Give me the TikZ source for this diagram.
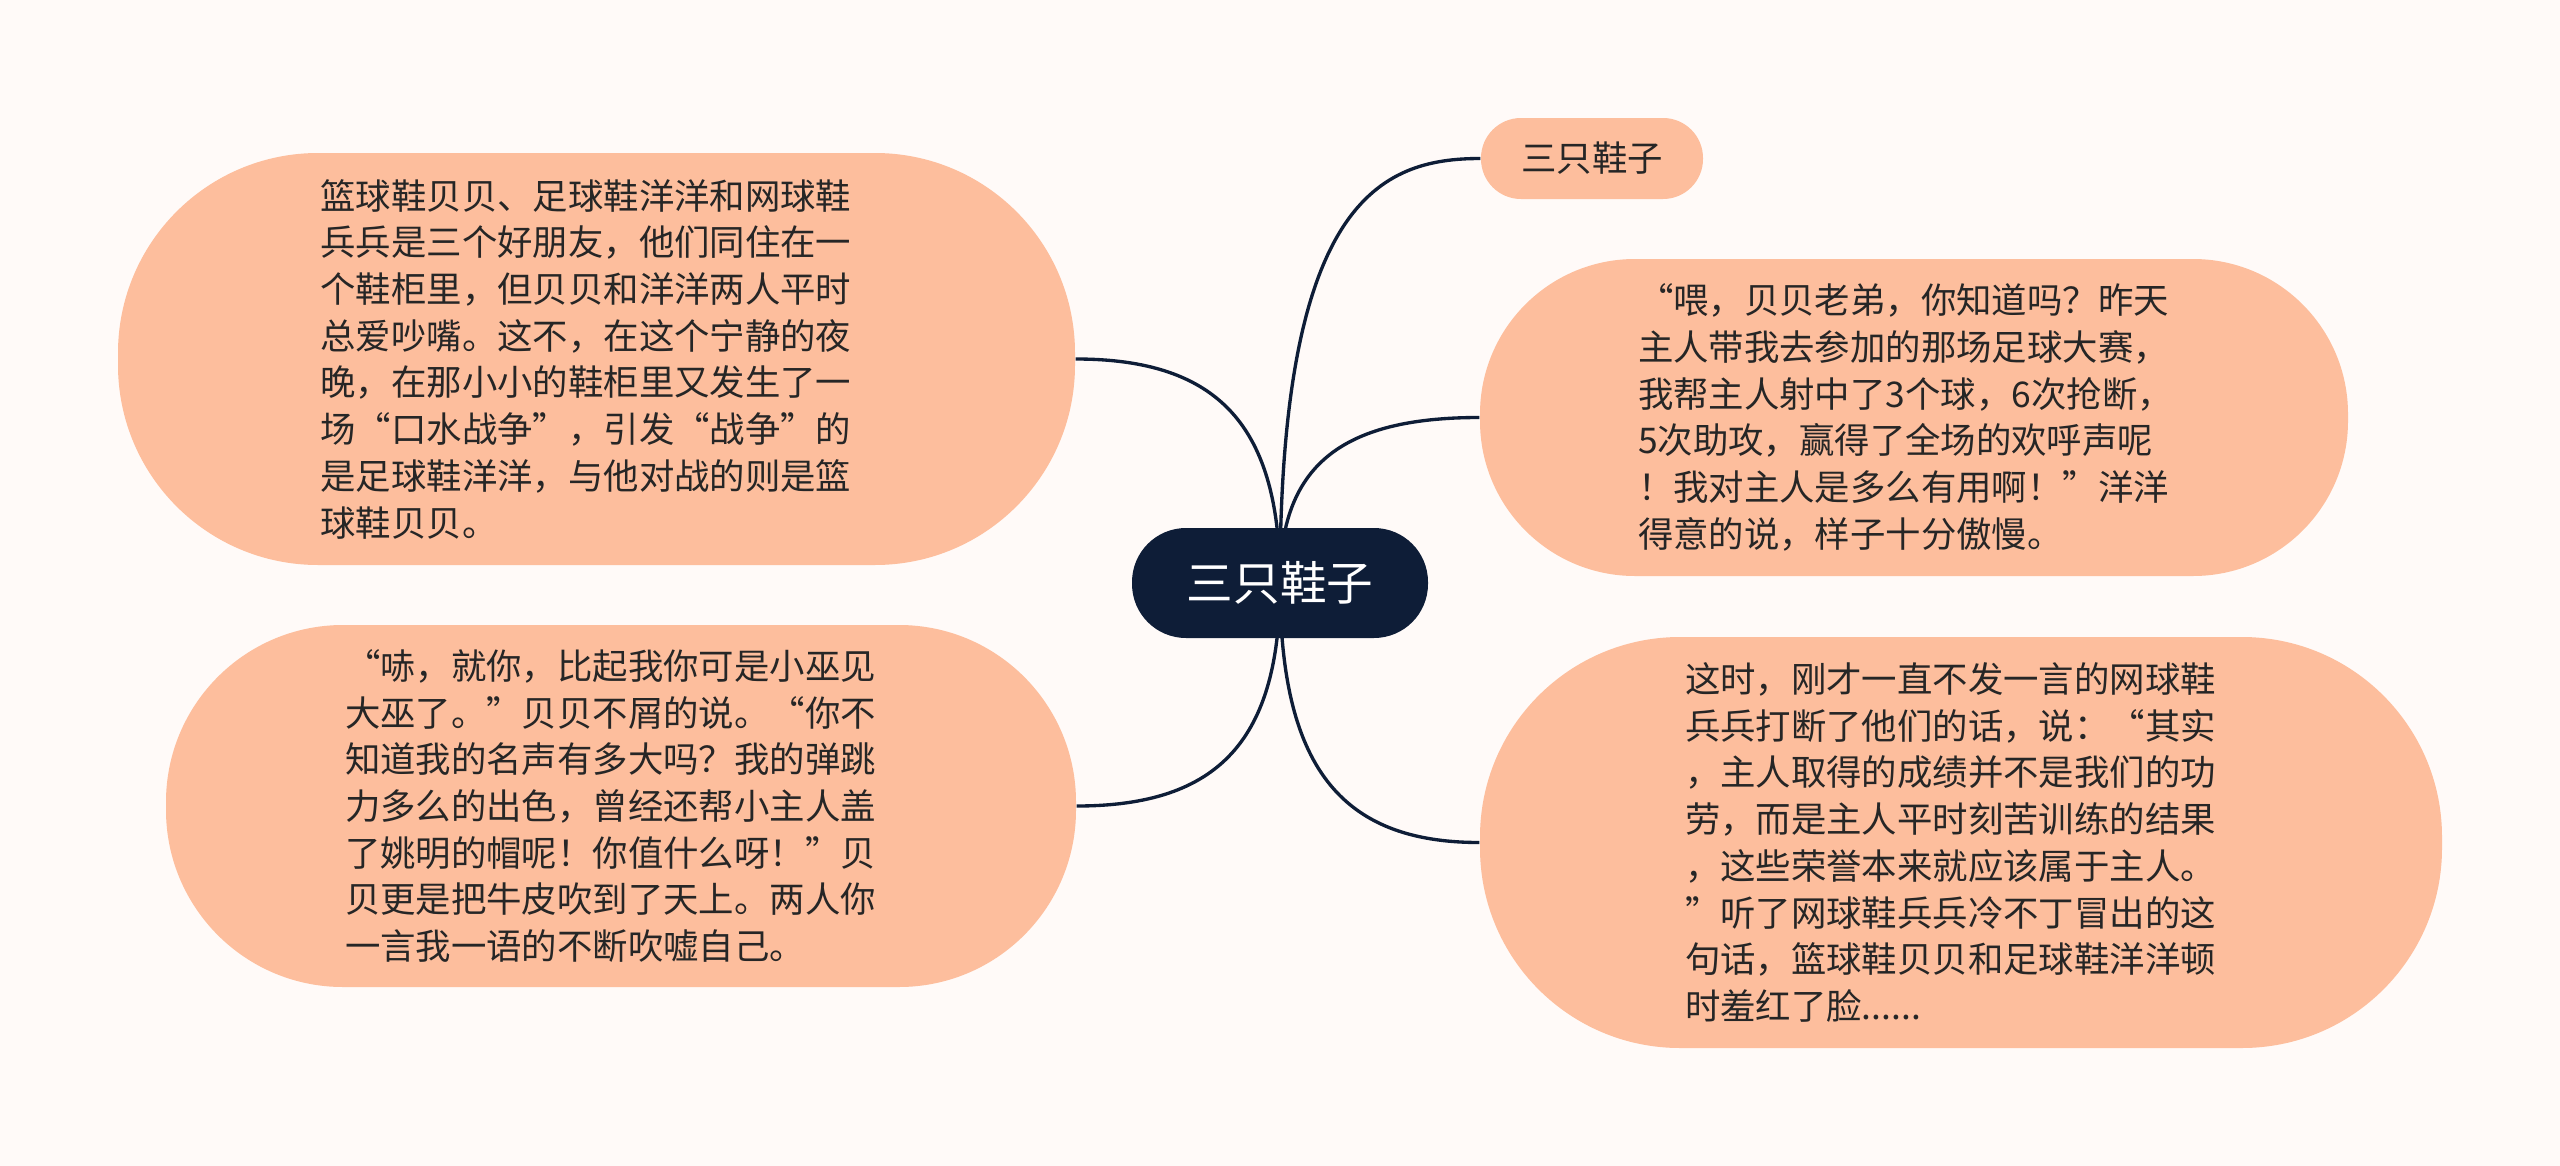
\documentclass[tikz,border=0pt]{standalone}
\usepackage{fontspec}
\setmainfont{Noto Sans CJK SC}
\usetikzlibrary{backgrounds}

\definecolor{paper}{HTML}{FFFAF8}
\definecolor{peach}{HTML}{FDBE9D}
\definecolor{navy}{HTML}{0E1D37}
\definecolor{ink}{HTML}{262626}

\begin{document}
\begin{tikzpicture}[
    topic/.style={rectangle, rounded corners=#1, fill=peach, text=ink,
      font=\fontsize{10.07pt}{13.29pt}\selectfont, align=left, inner sep=0pt},
    story/.style={topic=#1, text width=5.52cm},
    mainbox/.style={rectangle, rounded corners=0.54cm, fill=navy, text=white,
      font=\fontsize{13.26pt}{16pt}\selectfont, inner sep=0pt},
    link/.style={draw=navy, line width=0.95pt}
  ]
  \useasboundingbox (0,0) rectangle (25.6,-11.66);

  % centre
  \node [mainbox, minimum width=2.96cm, minimum height=1.10cm] (main) at (12.80,-5.83) {三只鞋子};

  % title
  \node [topic=0.4cm, minimum width=2.22cm, minimum height=0.81cm] (title) at (15.92,-1.585) {三只鞋子};

  % left side
  \node [story=2cm, minimum width=9.57cm, minimum height=4.12cm] (left1) at (5.965,-3.59) {%
    篮球鞋贝贝、足球鞋洋洋和网球鞋\\
    兵兵是三个好朋友，他们同住在一\\
    个鞋柜里，但贝贝和洋洋两人平时\\
    总爱吵嘴。这不，在这个宁静的夜\\
    晚，在那小小的鞋柜里又发生了一\\
    场“口水战争”，引发“战争”的\\
    是足球鞋洋洋，与他对战的则是篮\\
    球鞋贝贝。};
  \node [story=1.77cm, minimum width=9.10cm, minimum height=3.62cm] (left2) at (6.21,-8.06) {%
    “哧，就你，比起我你可是小巫见\\
    大巫了。”贝贝不屑的说。“你不\\
    知道我的名声有多大吗？我的弹跳\\
    力多么的出色，曾经还帮小主人盖\\
    了姚明的帽呢！你值什么呀！”贝\\
    贝更是把牛皮吹到了天上。两人你\\
    一言我一语的不断吹嘘自己。};

  % right side
  \node [story=1.55cm, minimum width=8.68cm, minimum height=3.17cm] (right1) at (19.14,-4.175) {%
    “喂，贝贝老弟，你知道吗？昨天\\
    主人带我去参加的那场足球大赛，\\
    我帮主人射中了3个球，6次抢断，\\
    5次助攻，赢得了全场的欢呼声呢\\
    ！我对主人是多么有用啊！”洋洋\\
    得意的说，样子十分傲慢。};
  \node [story=2cm, minimum width=9.62cm, minimum height=4.11cm] (right2) at (19.61,-8.425) {%
    这时，刚才一直不发一言的网球鞋\\
    兵兵打断了他们的话，说：“其实\\
    ，主人取得的成绩并不是我们的功\\
    劳，而是主人平时刻苦训练的结果\\
    ，这些荣誉本来就应该属于主人。\\
    ”听了网球鞋兵兵冷不丁冒出的这\\
    句话，篮球鞋贝贝和足球鞋洋洋顿\\
    时羞红了脸......};

  \begin{pgfonlayer}{background}
    % paper
    \fill [paper] (0,0) rectangle (25.6,-11.66);

    % branches
    \foreach \leaf/\cy/\cx in {left1.east/1.57/1.43, left2.east/-1.56/1.43,
        title.west/3.82/-1.0, right1.west/1.16/-1.4, right2.west/-1.82/-1.4} {
      \draw [link] (main.center) .. controls +(0,\cy) and +(\cx,0) .. (\leaf);
    }
  \end{pgfonlayer}
\end{tikzpicture}
\end{document}
